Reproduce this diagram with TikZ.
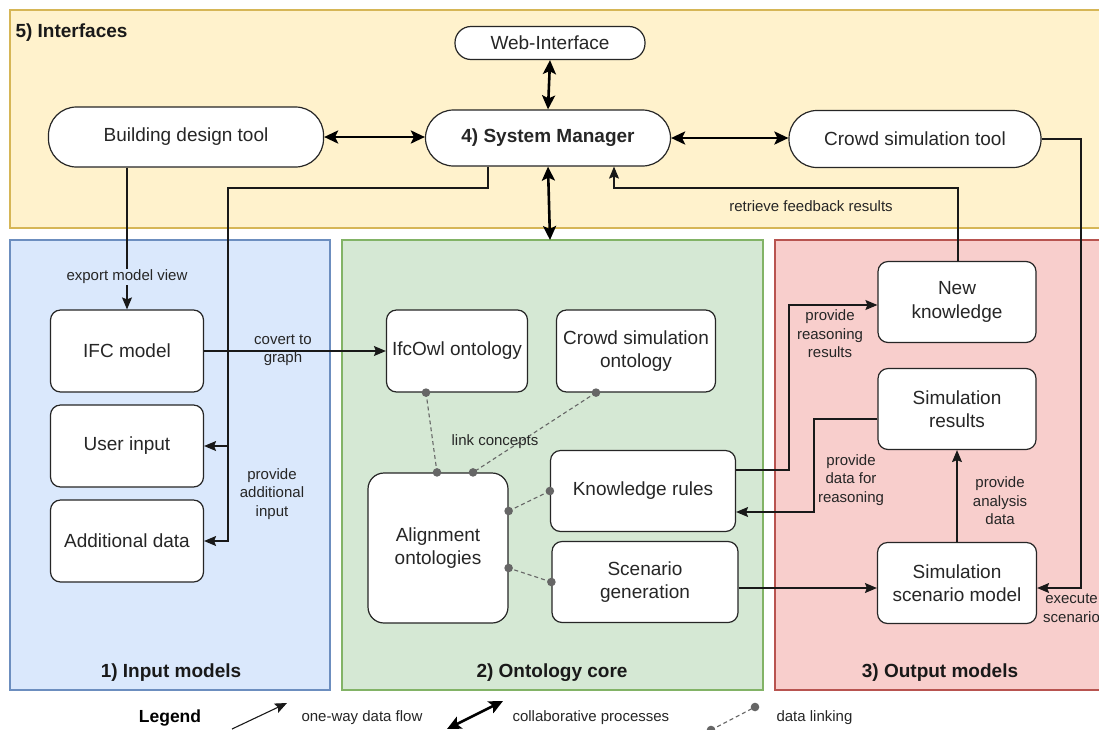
\documentclass[tikz,border=0pt]{standalone}
\usepackage{fontspec}
\setmainfont{Liberation Sans}
\usetikzlibrary{arrows.meta,calc}
\definecolor{yfill}{HTML}{FFF2CC}\definecolor{ydraw}{HTML}{D6B656}
\definecolor{bfill}{HTML}{DAE8FC}\definecolor{bdraw}{HTML}{6C8EBF}
\definecolor{gfill}{HTML}{D5E8D4}\definecolor{gdraw}{HTML}{82B366}
\definecolor{rfill}{HTML}{F8CECC}\definecolor{rdraw}{HTML}{B85450}
\definecolor{linkgray}{HTML}{666666}
\begin{document}
\begin{tikzpicture}[x=1pt,y=-1pt,
  box/.style={draw=black!85, fill=white, rounded corners=10pt, line width=1.2pt,
    font=\fontsize{19}{23.5}\selectfont, align=center, inner sep=2pt, text=black!85},
  stad/.style={box, rounded corners=28pt},
  lbl/.style={font=\fontsize{15}{18.5}\selectfont, align=center, text=black!85},
  sec/.style={font=\bfseries\fontsize{19}{23}\selectfont, text=black!90},
  flow/.style={-{Stealth[length=12pt,width=10pt,inset=2pt]}, line width=1.1pt, draw=black!90},
  collab/.style={{Stealth[length=14pt,width=13pt,inset=3pt]}-{Stealth[length=14pt,width=13pt,inset=3pt]}, line width=2.6pt},
  link/.style={draw=linkgray, line width=1.1pt, dash pattern=on 4pt off 3pt},
  ldot/.style={fill=linkgray}
]
\useasboundingbox (0,0) rectangle (1099,729);
\clip (0,0) rectangle (1099,729);
\fill[white] (0,0) rectangle (1099,729);

% section areas
\draw[fill=yfill, draw=ydraw, line width=2pt] (10,10) rectangle (1120,228);
\draw[fill=bfill, draw=bdraw, line width=2pt] (10,240) rectangle (330,690);
\draw[fill=gfill, draw=gdraw, line width=2pt] (342,240) rectangle (763,690);
\draw[fill=rfill, draw=rdraw, line width=2pt] (775,240) rectangle (1120,690);

\node[sec, anchor=west] (s5) at (12,33) {5) Interfaces};
\node[sec] (s1) at (171,673) {1) Input models};
\node[sec] (s2) at (552,673) {2) Ontology core};
\node[sec] (s3) at (940,673) {3) Output models};

% interface nodes
\node[stad, minimum width=190pt, minimum height=33pt, rounded corners=16pt] (web) at (550,43) {Web-Interface};
\node[stad, minimum width=275pt, minimum height=60pt] (bdt) at (186,137) {Building design tool};
\node[stad, minimum width=245pt, minimum height=56pt, font=\bfseries\fontsize{19}{23.5}\selectfont] (sm) at (548,138) {4) System Manager};
\node[stad, minimum width=252pt, minimum height=57pt] (cst) at (915,139) {Crowd simulation tool};

% input models
\node[box, minimum width=153pt, minimum height=82pt] (ifc) at (127,351) {IFC model};
\node[box, minimum width=153pt, minimum height=82pt] (user) at (127,446) {User input};
\node[box, minimum width=153pt, minimum height=82pt] (add) at (127,541) {Additional data};

% ontology core
\node[box, minimum width=141pt, minimum height=82pt] (owl) at (457,351) {IfcOwl ontology};
\node[box, minimum width=159pt, minimum height=82pt] (cso) at (636,351) {Crowd simulation\\ontology};
\node[box, minimum width=140pt, minimum height=150pt, rounded corners=16pt] (al) at (438,548) {Alignment\\ontologies};
\node[box, minimum width=185pt, minimum height=81pt] (kr) at (643,491) {Knowledge rules};
\node[box, minimum width=186pt, minimum height=81pt] (sg) at (645,582) {Scenario\\generation};

% output models
\node[box, minimum width=158pt, minimum height=81pt] (nk) at (957,302) {New\\knowledge};
\node[box, minimum width=158pt, minimum height=81pt] (sr) at (957,409) {Simulation\\results};
\node[box, minimum width=159pt, minimum height=81pt] (ssm) at (957,583) {Simulation\\scenario model};

% collaborative arrows
\draw[collab] (bdt.east) -- (sm.west |- bdt.east);
\draw[collab] (sm.east) -- (cst.west |- sm.east);
\draw[collab] (web.south) -- (sm.north);
\coordinate (gtop) at (550,240);
\draw[collab] (sm.south) -- (gtop);

% one-way flows
\draw[flow] (bdt.south -| ifc.north) -- node[lbl, pos=0.77, fill=bfill, inner sep=1pt] {export model view} (ifc.north);
\coordinate (j1) at (228,188);
\coordinate (j2) at (228,447);
\draw[flow] ([xshift=-60pt]sm.south) |- (j1) |- (user.east);
\draw[flow] (j2) |- (add.east);
\node[lbl] (lpa) at (272,494) {provide\\additional\\input};

\draw[flow] (ifc.east) -- (owl.west);
\node[lbl] (lcg) at (283,350) {covert to\\graph};

\coordinate (f1) at (958,188);
\draw[flow] (nk.north -| f1) -- (f1) -| ([xshift=66pt]sm.south);
\node[lbl] (lrf) at (811,206) {retrieve feedback results};

\coordinate (c1) at (1081,139);
\draw[flow] (cst.east) -- (c1) |- ([yshift=-5pt]ssm.east);
\node[lbl, anchor=north west, inner sep=0pt] (lex) at (1043,594) {execute\\scenario};

\coordinate (k1) at (789,470);
\draw[flow] ([yshift=21pt]kr.east) -- (k1) |- ([yshift=-3pt]nk.west);
\node[lbl] (lpr) at (830,334) {provide\\reasoning\\results};

\coordinate (k2) at (814,419);
\draw[flow] ([yshift=-10pt]sr.west) -- (k2) |- ([yshift=-21pt]kr.east);
\node[lbl] (lpd) at (851,480) {provide\\data for\\reasoning};

\draw[flow] (ssm.north) -- (sr.south);
\node[lbl] (lpan) at (1000,501) {provide\\analysis\\data};

\draw[flow] ([yshift=-6pt]sg.east) -- ([yshift=-6pt]sg.east -| ssm.west);

% data links
\coordinate (d1a) at ([xshift=-31pt]owl.south);
\coordinate (d1b) at ([xshift=-1pt]al.north);
\coordinate (d2a) at ([xshift=-40pt]cso.south);
\coordinate (d2b) at ([xshift=35pt]al.north);
\coordinate (d3a) at (kr.west);
\coordinate (d3b) at ([yshift=37pt]al.east);
\coordinate (d4a) at (sg.west);
\coordinate (d4b) at ([yshift=-20pt]al.east);
\draw[link] (d1a) -- (d1b);
\draw[link] (d2a) -- (d2b);
\draw[link] (d3a) -- (d3b);
\draw[link] (d4a) -- (d4b);
\foreach \p in {d1a,d1b,d2a,d2b,d3a,d3b,d4a,d4b} \fill[ldot] (\p) circle (4.3pt);
\node[lbl] (llc) at (495,442) {link concepts};

% legend
\node[font=\bfseries\fontsize{17.5}{21}\selectfont] (leg) at (170,718) {Legend};
\coordinate (la1) at (232,729); \coordinate (la2) at (287,703);
\draw[flow] (la1) -- (la2);
\node[lbl, anchor=west] (lt1) at (298,718) {one-way data flow};
\coordinate (lb1) at (447,729); \coordinate (lb2) at (503,701);
\draw[collab] (lb1) -- (lb2);
\node[lbl, anchor=west] (lt2) at (509,718) {collaborative processes};
\coordinate (lc1) at (711,730); \coordinate (lc2) at (755,707);
\draw[link] (lc1) -- (lc2);
\fill[ldot] (lc2) circle (4.3pt);
\fill[ldot] (lc1) circle (4.3pt);
\node[lbl, anchor=west] (lt3) at (773,718) {data linking};
\end{tikzpicture}
\end{document}
